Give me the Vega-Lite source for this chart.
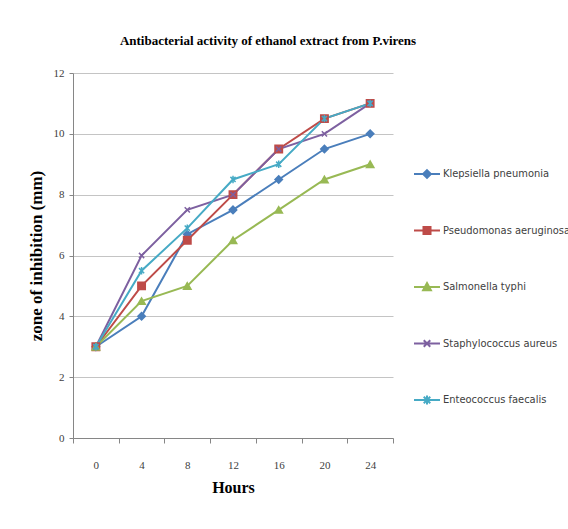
{
  "$schema": "https://vega.github.io/schema/vega-lite/v6.json",
  "autosize": {"type": "none"},
  "width": 320,
  "height": 365,
  "padding": {"left": 73, "top": 73, "right": 175, "bottom": 91},
  "background": "white",
  "config": {
    "view": {"stroke": null},
    "axis": {
      "labelFont": "Liberation Serif",
      "labelFontSize": 11,
      "labelColor": "#404040",
      "titleFont": "Liberation Serif",
      "titleFontWeight": "bold",
      "titleColor": "#000000",
      "domainColor": "#868686",
      "tickColor": "#868686",
      "gridColor": "#c4c4c4"
    }
  },
  "title": {
    "text": "Antibacterial activity of ethanol extract from P.virens",
    "font": "Liberation Serif",
    "fontSize": 13,
    "fontWeight": "bold",
    "color": "#000000",
    "anchor": "middle",
    "dx": 35,
    "offset": 19
  },
  "data": {
    "values": [
      {"series": "Klepsiella pneumonia", "hour": 0, "value": 3},
      {"series": "Klepsiella pneumonia", "hour": 4, "value": 4},
      {"series": "Klepsiella pneumonia", "hour": 8, "value": 6.7},
      {"series": "Klepsiella pneumonia", "hour": 12, "value": 7.5},
      {"series": "Klepsiella pneumonia", "hour": 16, "value": 8.5},
      {"series": "Klepsiella pneumonia", "hour": 20, "value": 9.5},
      {"series": "Klepsiella pneumonia", "hour": 24, "value": 10},
      {"series": "Pseudomonas aeruginosa", "hour": 0, "value": 3},
      {"series": "Pseudomonas aeruginosa", "hour": 4, "value": 5},
      {"series": "Pseudomonas aeruginosa", "hour": 8, "value": 6.5},
      {"series": "Pseudomonas aeruginosa", "hour": 12, "value": 8},
      {"series": "Pseudomonas aeruginosa", "hour": 16, "value": 9.5},
      {"series": "Pseudomonas aeruginosa", "hour": 20, "value": 10.5},
      {"series": "Pseudomonas aeruginosa", "hour": 24, "value": 11},
      {"series": "Salmonella typhi", "hour": 0, "value": 3},
      {"series": "Salmonella typhi", "hour": 4, "value": 4.5},
      {"series": "Salmonella typhi", "hour": 8, "value": 5},
      {"series": "Salmonella typhi", "hour": 12, "value": 6.5},
      {"series": "Salmonella typhi", "hour": 16, "value": 7.5},
      {"series": "Salmonella typhi", "hour": 20, "value": 8.5},
      {"series": "Salmonella typhi", "hour": 24, "value": 9},
      {"series": "Staphylococcus aureus", "hour": 0, "value": 3},
      {"series": "Staphylococcus aureus", "hour": 4, "value": 6},
      {"series": "Staphylococcus aureus", "hour": 8, "value": 7.5},
      {"series": "Staphylococcus aureus", "hour": 12, "value": 8},
      {"series": "Staphylococcus aureus", "hour": 16, "value": 9.5},
      {"series": "Staphylococcus aureus", "hour": 20, "value": 10},
      {"series": "Staphylococcus aureus", "hour": 24, "value": 11},
      {"series": "Enteococcus faecalis", "hour": 0, "value": 3},
      {"series": "Enteococcus faecalis", "hour": 4, "value": 5.5},
      {"series": "Enteococcus faecalis", "hour": 8, "value": 6.9},
      {"series": "Enteococcus faecalis", "hour": 12, "value": 8.5},
      {"series": "Enteococcus faecalis", "hour": 16, "value": 9},
      {"series": "Enteococcus faecalis", "hour": 20, "value": 10.5},
      {"series": "Enteococcus faecalis", "hour": 24, "value": 11}
    ]
  },
  "encoding": {
    "x": {
      "field": "hour",
      "type": "ordinal",
      "bandPosition": 0.5,
      "scale": {"type": "band", "domain": [0, 4, 8, 12, 16, 20, 24], "paddingInner": 0, "paddingOuter": 0},
      "axis": {
        "title": "Hours",
        "titleFontSize": 16,
        "titlePadding": 9,
        "labelAngle": 0,
        "tickBand": "extent",
        "tickSize": 5,
        "labelPadding": 16,
        "grid": false
      }
    },
    "y": {
      "field": "value",
      "type": "quantitative",
      "scale": {"domain": [0, 12], "nice": false},
      "axis": {
        "title": "zone of inhibition (mm)",
        "titleFontSize": 17,
        "titlePadding": 8,
        "values": [0, 2, 4, 6, 8, 10, 12],
        "tickSize": 4,
        "labelPadding": 5,
        "grid": true
      }
    }
  },
  "layer": [
    {
      "mark": {"type": "line", "strokeWidth": 2},
      "encoding": {
        "color": {
          "field": "series",
          "type": "nominal",
          "scale": {
            "domain": ["Klepsiella pneumonia", "Pseudomonas aeruginosa", "Salmonella typhi", "Staphylococcus aureus", "Enteococcus faecalis"],
            "range": ["#4A7EBB", "#BE4B48", "#98B954", "#7D60A0", "#46AAC5"]
          },
          "legend": null
        }
      }
    },
    {
      "mark": {"type": "point", "filled": true, "size": 55, "strokeWidth": 1.5, "opacity": 1},
      "encoding": {
        "color": {
          "field": "series",
          "type": "nominal",
          "scale": {
            "domain": ["Klepsiella pneumonia", "Pseudomonas aeruginosa", "Salmonella typhi", "Staphylococcus aureus", "Enteococcus faecalis"],
            "range": ["#4A7EBB", "#BE4B48", "#98B954", "#7D60A0", "#46AAC5"]
          },
          "legend": null
        },
        "stroke": {
          "field": "series",
          "type": "nominal",
          "scale": {
            "domain": ["Klepsiella pneumonia", "Pseudomonas aeruginosa", "Salmonella typhi", "Staphylococcus aureus", "Enteococcus faecalis"],
            "range": ["#4A7EBB", "#BE4B48", "#98B954", "#7D60A0", "#46AAC5"]
          },
          "legend": null
        },
        "shape": {
          "field": "series",
          "type": "nominal",
          "scale": {
            "domain": ["Klepsiella pneumonia", "Pseudomonas aeruginosa", "Salmonella typhi", "Staphylococcus aureus", "Enteococcus faecalis"],
            "range": ["diamond", "square", "triangle-up", "M-0.7,-0.7L0.7,0.7M0.7,-0.7L-0.7,0.7", "M-0.7,-0.7L0.7,0.7M0.7,-0.7L-0.7,0.7M0,-1L0,1"]
          },
          "legend": null
        }
      }
    },
    {
      "transform": [{"filter": "false"}],
      "mark": {"type": "point", "filled": true, "strokeWidth": 2, "opacity": 1},
      "encoding": {
        "color": {
          "field": "series",
          "type": "nominal",
          "scale": {
            "domain": ["Klepsiella pneumonia", "Pseudomonas aeruginosa", "Salmonella typhi", "Staphylococcus aureus", "Enteococcus faecalis"],
            "range": ["#4A7EBB", "#BE4B48", "#98B954", "#7D60A0", "#46AAC5"]
          },
          "legend": {
            "title": null,
            "orient": "none",
            "legendX": 340,
            "legendY": 87,
            "padding": 0,
            "symbolSize": 676,
            "symbolStrokeWidth": 2,
            "rowPadding": 34.5,
            "labelOffset": 2,
            "labelFont": "Liberation Sans Narrow, DejaVu Sans Condensed, sans-serif",
            "labelFontSize": 11,
            "labelColor": "#404040",
            "labelLimit": 400
          }
        },
        "stroke": {
          "field": "series",
          "type": "nominal",
          "scale": {
            "domain": ["Klepsiella pneumonia", "Pseudomonas aeruginosa", "Salmonella typhi", "Staphylococcus aureus", "Enteococcus faecalis"],
            "range": ["#4A7EBB", "#BE4B48", "#98B954", "#7D60A0", "#46AAC5"]
          }
        },
        "shape": {
          "field": "series",
          "type": "nominal",
          "scale": {
            "domain": ["Klepsiella pneumonia", "Pseudomonas aeruginosa", "Salmonella typhi", "Staphylococcus aureus", "Enteococcus faecalis"],
            "range": [
              "M-1,0L1,0M0,-0.3L0.3,0L0,0.3L-0.3,0Z",
              "M-1,0L1,0M-0.27,-0.27L0.27,-0.27L0.27,0.27L-0.27,0.27Z",
              "M-1,0L1,0M0,-0.3L0.3,0.25L-0.3,0.25Z",
              "M-1,0L1,0M-0.25,-0.25L0.25,0.25M0.25,-0.25L-0.25,0.25",
              "M-1,0L1,0M-0.25,-0.25L0.25,0.25M0.25,-0.25L-0.25,0.25M0,-0.35L0,0.35"
            ]
          }
        }
      }
    }
  ],
  "resolve": {"scale": {"color": "independent", "stroke": "independent", "shape": "independent"}}
}
